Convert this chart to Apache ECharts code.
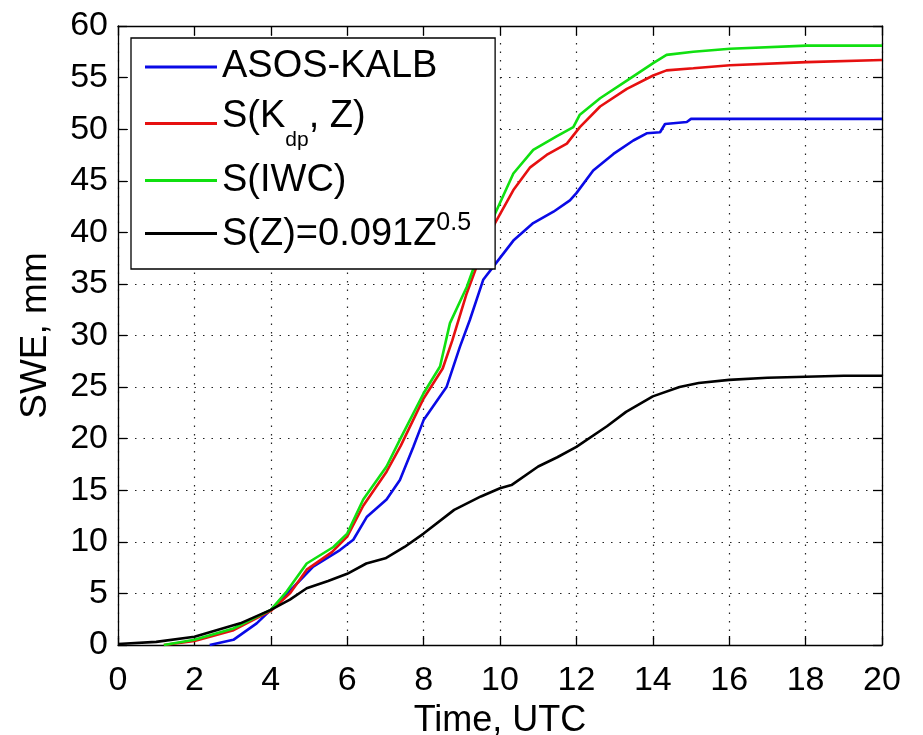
<!DOCTYPE html>
<html>
<head>
<meta charset="utf-8">
<script src="https://cdn.jsdelivr.net/npm/echarts@6/dist/echarts.min.js"></script>
<style>
html,body{margin:0;padding:0;background:#fff;}
#chart{width:923px;height:735px;}
</style>
</head>
<body>
<div id="chart"></div>
<script>
// ---- data (time in hours UTC, SWE in mm) ----
const xTicks = [0, 2, 4, 6, 8, 10, 12, 14, 16, 18, 20];
const yTicks = [0, 5, 10, 15, 20, 25, 30, 35, 40, 45, 50, 55, 60];
const seriesNames = ['ASOS-KALB', 'S(Kdp, Z)', 'S(IWC)', 'S(Z)=0.091Z^0.5'];

const asosT = [2.4, 3.02, 3.63, 4, 4.59, 5.11, 5.81, 6.16, 6.51, 7.03, 7.38, 7.73, 8, 8.6, 8.95, 9.21, 9.56, 9.83, 10.35, 10.87, 11.4, 11.83, 12.0, 12.44, 12.97, 13.49, 13.84, 14.19, 14.32, 14.89, 15.0, 16, 18, 20];
const asosV = [0, 0.5, 2.1, 3.4, 5.6, 7.6, 9.2, 10.2, 12.4, 14.1, 16.0, 19.2, 21.8, 25.0, 28.9, 31.5, 35.4, 36.7, 39.2, 40.9, 42.0, 43.1, 43.8, 46.0, 47.6, 48.9, 49.6, 49.7, 50.5, 50.7, 51.0, 51.0, 51.0, 51.0];

const kdpT = [1.2, 2, 3.0, 4, 4.5, 4.94, 5.6, 6, 6.42, 7.03, 7.4, 8, 8.5, 8.75, 9.13, 9.5, 9.87, 10.35, 10.79, 11.22, 11.75, 12.09, 12.62, 13.32, 14.01, 14.36, 15.06, 16.02, 18.03, 20];
const kdpV = [0, 0.4, 1.4, 3.3, 5.0, 7.3, 9.0, 10.5, 13.5, 16.8, 19.3, 23.9, 26.8, 29.5, 34.1, 37.8, 40.9, 44.1, 46.3, 47.5, 48.6, 50.2, 52.2, 53.9, 55.2, 55.7, 55.9, 56.2, 56.5, 56.7];

const iwcT = [1.2, 2, 3.02, 4, 4.42, 4.94, 5.64, 6, 6.42, 7.03, 7.38, 8, 8.43, 8.69, 9.13, 9.5, 9.87, 10.35, 10.87, 11.48, 11.92, 12.09, 12.62, 13.32, 14.01, 14.36, 15.06, 16.02, 18.03, 20];
const iwcV = [0, 0.5, 1.6, 3.4, 5.2, 7.9, 9.5, 10.8, 14.1, 17.3, 19.9, 24.4, 27.0, 31.2, 34.7, 38.5, 41.8, 45.7, 48.0, 49.3, 50.2, 51.4, 53.0, 54.7, 56.4, 57.2, 57.5, 57.8, 58.1, 58.1];

const szT = [0, 1, 2, 3.2, 4, 4.5, 4.94, 5.5, 6, 6.5, 7.0, 7.5, 8, 8.8, 9.5, 10, 10.3, 11, 11.5, 12, 12.8, 13.3, 14, 14.7, 15.2, 16, 17, 18, 19, 20];
const szV = [0.1, 0.3, 0.8, 2.1, 3.4, 4.4, 5.5, 6.2, 6.9, 7.9, 8.4, 9.5, 10.8, 13.1, 14.4, 15.2, 15.5, 17.3, 18.2, 19.2, 21.2, 22.6, 24.1, 25.0, 25.4, 25.7, 25.9, 26.0, 26.1, 26.1];

const colors = ['#0a0ae6', '#e61010', '#10e010', '#000000'];

// ---- build ----
function zip(t, v) { return t.map((x, i) => [x, v[i]]); }
const FONT = 'Liberation Sans';
const legendText = {
  'ASOS-KALB': '{m|ASOS-KALB}',
  'S(Kdp, Z)': '{mt|S(K}{sub|dp}{mt|, Z)}',
  'S(IWC)': '{m|S(IWC)}',
  'S(Z)=0.091Z^0.5': '{mb|S(Z)=0.091Z}{sup|0.5}'
};
const dotted = { color: '#222', width: 1.2, type: [1.5, 7] };
const axisLine = { show: true, onZero: false, lineStyle: { color: '#000', width: 1.3 } };
const tick = { show: true, inside: true, length: 9, lineStyle: { color: '#000', width: 1.3 } };
const tickLabel = { color: '#000', fontFamily: FONT, fontSize: 34 };

const chart = echarts.init(document.getElementById('chart'), null, { renderer: 'canvas' });
chart.setOption({
  animation: false,
  backgroundColor: '#fff',
  grid: { left: 118, right: 41, top: 26, bottom: 90, containLabel: false, outerBoundsMode: 'none' },
  legend: {
    data: seriesNames,
    orient: 'vertical',
    left: 131, top: 38,
    padding: [9, 24, 14, 14],
    itemGap: 10,
    itemWidth: 72, itemHeight: 3,
    icon: 'rect',
    backgroundColor: '#fff',
    borderColor: '#000', borderWidth: 1.3,
    selectedMode: false,
    formatter: n => legendText[n],
    textStyle: {
      color: '#000', fontFamily: FONT, fontSize: 38, lineHeight: 40,
      rich: {
        m: { fontFamily: FONT, fontSize: 38, lineHeight: 40, color: '#000' },
        mt: { fontFamily: FONT, fontSize: 38, lineHeight: 40, height: 40, color: '#000', verticalAlign: 'top' },
        sub: { fontFamily: FONT, fontSize: 21, lineHeight: 53, height: 20, color: '#000', verticalAlign: 'bottom' },
        mb: { fontFamily: FONT, fontSize: 38, lineHeight: 40, height: 40, color: '#000', verticalAlign: 'bottom' },
        sup: { fontFamily: FONT, fontSize: 25, lineHeight: 43, height: 22, color: '#000', verticalAlign: 'top' }
      }
    }
  },
  xAxis: [
    {
      type: 'value', position: 'bottom', min: xTicks[0], max: xTicks[xTicks.length - 1], interval: 2,
      name: 'Time, UTC', nameLocation: 'middle', nameGap: 55,
      nameTextStyle: { color: '#000', fontFamily: FONT, fontSize: 36 },
      axisLine: axisLine, axisTick: tick,
      axisLabel: Object.assign({ margin: 19 }, tickLabel),
      splitLine: { show: true, lineStyle: dotted }
    },
    {
      type: 'value', position: 'top', min: xTicks[0], max: xTicks[xTicks.length - 1], interval: 2,
      axisLine: axisLine, axisTick: tick, axisLabel: { show: false }, splitLine: { show: false }
    }
  ],
  yAxis: [
    {
      type: 'value', position: 'left', min: yTicks[0], max: yTicks[yTicks.length - 1], interval: 5,
      name: 'SWE, mm', nameLocation: 'middle', nameGap: 64,
      nameTextStyle: { color: '#000', fontFamily: FONT, fontSize: 37 },
      axisLine: axisLine, axisTick: tick,
      axisLabel: Object.assign({ margin: 10 }, tickLabel),
      splitLine: { show: true, lineStyle: dotted }
    },
    {
      type: 'value', position: 'right', min: yTicks[0], max: yTicks[yTicks.length - 1], interval: 5,
      axisLine: axisLine, axisTick: tick, axisLabel: { show: false }, splitLine: { show: false }
    }
  ],
  series: [
    { name: seriesNames[0], data: zip(asosT, asosV), color: colors[0] },
    { name: seriesNames[1], data: zip(kdpT, kdpV), color: colors[1] },
    { name: seriesNames[2], data: zip(iwcT, iwcV), color: colors[2] },
    { name: seriesNames[3], data: zip(szT, szV), color: colors[3] }
  ].map(s => Object.assign({
    type: 'line', showSymbol: false, symbol: 'none', xAxisIndex: 0, yAxisIndex: 0,
    lineStyle: { width: 2.6, color: s.color }, itemStyle: { color: s.color }
  }, s))
});
</script>
</body>
</html>
